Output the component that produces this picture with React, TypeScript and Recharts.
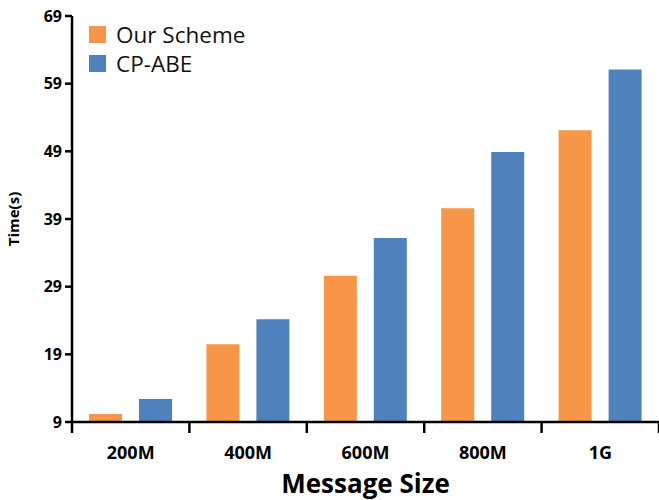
import React from "react";
import { Bar, BarChart, XAxis, YAxis } from "recharts";

const categories = ["200M", "400M", "600M", "800M", "1G"];
const ourScheme = [10.2, 20.5, 30.6, 40.6, 52.1];
const cpAbe = [12.4, 24.2, 36.2, 48.9, 61.1];
const yTicks = [9, 19, 29, 39, 49, 59, 69];

const ORANGE = "#F79646";
const BLUE = "#4F81BD";
const FONT = "'Open Sans', sans-serif";

const data = categories.map((name, i) => ({
  name,
  ourScheme: ourScheme[i],
  cpAbe: cpAbe[i],
}));

const BAND = (659 - 72) / categories.length;

function XTick(props: any) {
  const { x, y, payload, index } = props;
  const left = x - BAND / 2;
  return (
    <g>
      <line x1={left} y1={y - 8} x2={left} y2={y + 3} stroke="#000" strokeWidth={2.5} />
      {index === categories.length - 1 && (
        <line x1={x + BAND / 2} y1={y - 8} x2={x + BAND / 2} y2={y + 3} stroke="#000" strokeWidth={2.5} />
      )}
      <text
        x={x}
        y={y + 29}
        textAnchor="middle"
        fontFamily={FONT}
        fontWeight={700}
        fontSize={18}
        fill="#000"
      >
        {payload.value}
      </text>
    </g>
  );
}

const legendItems = [
  { label: "Our Scheme", color: ORANGE },
  { label: "CP-ABE", color: BLUE },
];

export default function App() {
  return (
    <div style={{ position: "absolute", left: 0, top: 0, width: 659, height: 500, background: "#fff" }}>
      <BarChart
        width={659}
        height={500}
        data={data}
        margin={{ top: 16, right: 0, left: 0, bottom: 0 }}
        barCategoryGap="15%"
        barGap={17}
      >
        <XAxis
          dataKey="name"
          height={78}
          axisLine={{ stroke: "#000", strokeWidth: 2.5 }}
          tickLine={false}
          tick={<XTick />}
          interval={0}
          label={{
            value: "Message Size",
            position: "insideBottom",
            offset: 7,
            style: { fontFamily: FONT, fontWeight: 700, fontSize: 26, fill: "#000" },
          }}
        />
        <YAxis
          domain={[9, 69]}
          ticks={yTicks}
          width={72}
          interval={0}
          axisLine={{ stroke: "#000", strokeWidth: 2.5 }}
          tickLine={{ stroke: "#000", strokeWidth: 2.5 }}
          tickSize={7}
          tickMargin={3}
          tick={{ fontFamily: FONT, fontWeight: 700, fontSize: 16, fill: "#000" }}
          label={{
            value: "Time(s)",
            angle: -90,
            position: "insideLeft",
            offset: 14,
            style: { fontFamily: FONT, fontWeight: 700, fontSize: 15, fill: "#000", textAnchor: "middle" },
          }}
        />
        <Bar dataKey="ourScheme" name="Our Scheme" fill={ORANGE} barSize={33} isAnimationActive={false} />
        <Bar dataKey="cpAbe" name="CP-ABE" fill={BLUE} barSize={33} isAnimationActive={false} />
      </BarChart>
      <div style={{ position: "absolute", left: 89, top: 20, fontFamily: FONT }}>
        {legendItems.map((it) => (
          <div key={it.label} style={{ display: "flex", alignItems: "center", height: 29 }}>
            <span style={{ width: 17, height: 17, background: it.color, display: "inline-block", marginRight: 10 }} />
            <span style={{ fontSize: 22.5, color: "#111", lineHeight: "29px" }}>{it.label}</span>
          </div>
        ))}
      </div>
    </div>
  );
}
